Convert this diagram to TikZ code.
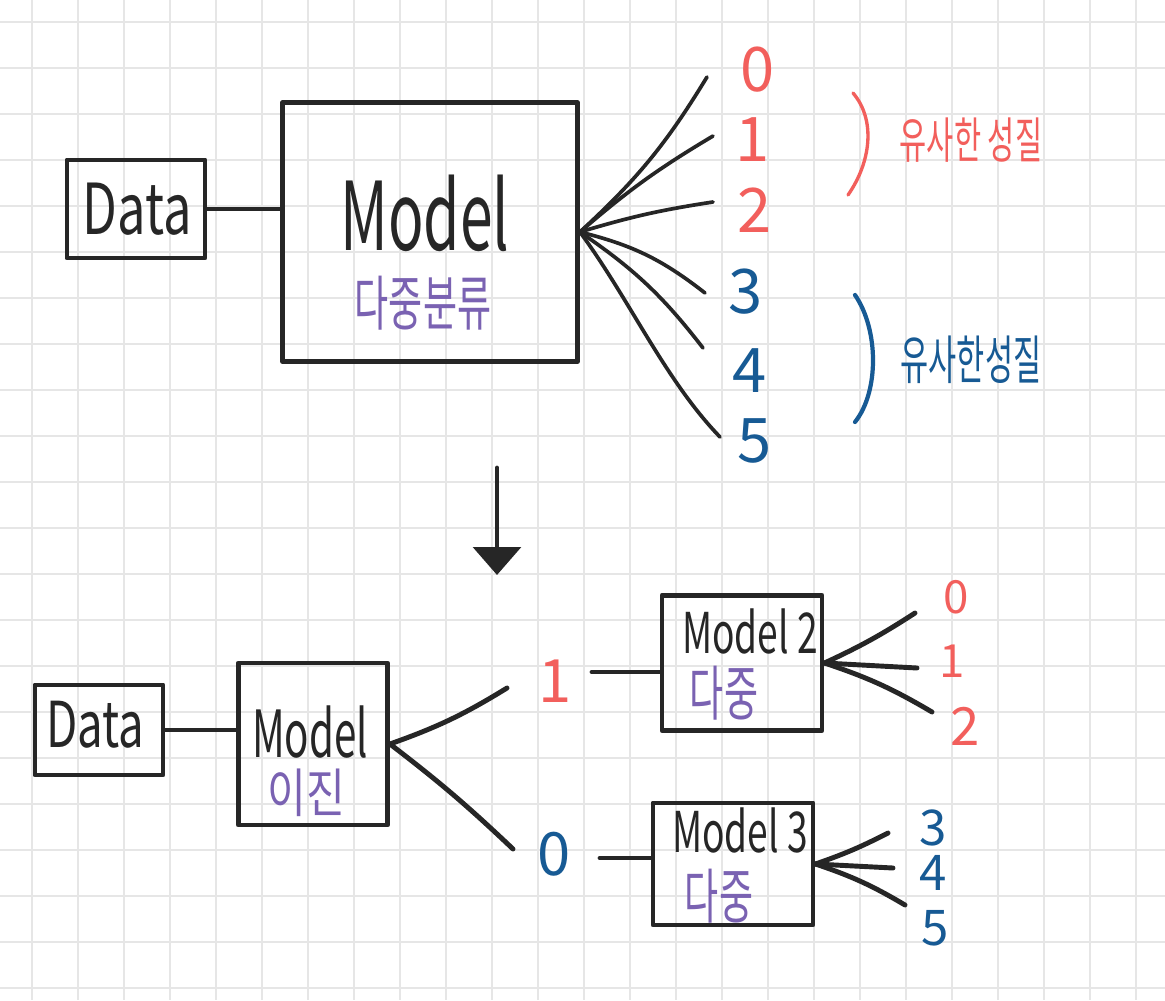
\documentclass[tikz,border=0pt]{standalone}
\usepackage{graphicx}
\usepackage{fontspec}
\setmainfont{Noto Sans CJK KR}
\usetikzlibrary{arrows.meta}
\definecolor{ink}{HTML}{262626}
\definecolor{redink}{HTML}{F25F5C}
\definecolor{blueink}{HTML}{175A94}
\definecolor{purpink}{HTML}{7A62B2}
\definecolor{gridc}{HTML}{E6E6E6}
\newcommand{\fsz}[1]{\fontsize{#1}{#1}\selectfont}
\newcommand{\hwx}[2]{\scalebox{#1}[1]{#2}}
\tikzset{
  box/.style={draw=ink, line width=2.8pt, inner sep=0pt, line join=round},
  wire/.style={draw=ink, line width=2.8pt, line cap=round},
  fan/.style={draw=ink, line width=2.1pt, line cap=round},
  lbl/.style={inner sep=0pt, text=ink},
  rednum/.style={inner sep=0pt, text=redink},
  bluenum/.style={inner sep=0pt, text=blueink},
  kor/.style={inner sep=0pt, text=purpink},
  gridline/.style={draw=gridc, line width=0.9pt},
}
\begin{document}
\begin{tikzpicture}[x=0.02cm, y=-0.02cm]
\useasboundingbox (0,0) rectangle (1165,1000);
\fill[white] (0,0) rectangle (1165,1000);
% grid
\foreach \gx in {32,78,...,1140} \draw[gridline] (\gx,0) -- (\gx,1000);
\foreach \gy in {22,68,...,1000} \draw[gridline] (0,\gy) -- (1165,\gy);

% ---------- top part ----------
\node[box, minimum width=2.76cm, minimum height=1.96cm] (data1) at (136,209) {};
\node[lbl, anchor=base] (tdata1) at (137,235) {\fsz{40}\hwx{0.72}{Data}};
\node[box, minimum width=5.9cm, minimum height=5.18cm] (model1) at (430,232) {};
\node[lbl, anchor=base] (tmodel1) at (425,250) {\fsz{54}\hwx{0.62}{Model}};
\node[kor] (kmodel1) at (423,303) {\fsz{34}\hwx{0.62}{다중분류}};
\draw[wire] (data1.east) -- (data1.east -| model1.west);

\coordinate (hub1) at (model1.east);
\coordinate (e0) at (707,77);
\coordinate (e1) at (713,136);
\coordinate (e2) at (713,202);
\coordinate (e3) at (705,293);
\coordinate (e4) at (703,348);
\coordinate (e5) at (720,437);
\draw[fan] (hub1) to[bend right=8] (e0);
\draw[fan] (hub1) to[bend left=5] (e1);
\draw[fan] (hub1) to[bend left=4] (e2);
\draw[fan] (hub1) to[bend left=12] (e3);
\draw[fan] (hub1) to[bend left=9] (e4);
\draw[fan] (hub1) .. controls (630,300) and (665,380) .. (e5);

\node[rednum, anchor=base] (n0) at (758,92) {\fsz{35}0};
\node[rednum, anchor=base] (n1) at (753,162) {\fsz{35}1};
\node[rednum, anchor=base] (n2) at (755,232) {\fsz{35}2};
\node[bluenum, anchor=base] (n3) at (746,313) {\fsz{35}3};
\node[bluenum, anchor=base] (n4) at (750,392) {\fsz{35}4};
\node[bluenum, anchor=base] (n5) at (755,462) {\fsz{35}5};

\draw[draw=redink, line width=1.9pt, line cap=round] (853,93) .. controls (876,120) and (871,162) .. (848,195);
\node[inner sep=0pt, text=redink] (simred) at (971,140) {\fsz{28}\hwx{0.6}{유사한 성질}};
\draw[draw=blueink, line width=2.4pt, line cap=round] (855,295) .. controls (879,330) and (879,392) .. (855,422);
\node[inner sep=0pt, text=blueink] (simblue) at (971,360) {\fsz{30}\hwx{0.58}{유사한성질}};

% down arrow
\coordinate (arrS) at (497,468);
\coordinate (arrE) at (497,575);
\draw[wire, -{Triangle[width=0.95cm, length=0.56cm]}] (arrS) -- (arrE);

% ---------- bottom part ----------
\node[box, minimum width=2.56cm, minimum height=1.8cm] (data2) at (99,730) {};
\node[lbl, anchor=base] (tdata2) at (95,747) {\fsz{36}\hwx{0.72}{Data}};
\node[box, minimum width=2.98cm, minimum height=3.24cm] (bin) at (313,744) {};
\node[lbl, anchor=base] (tbin) at (310,757) {\fsz{37}\hwx{0.62}{Model}};
\node[kor] (kbin) at (306,793) {\fsz{30}\hwx{0.8}{이진}};
\draw[wire] (data2.east) -- (data2.east -| bin.west);

\coordinate (hub2) at (bin.east);
\coordinate (u1) at (507,688);
\coordinate (u0) at (513,849);
\draw[wire] (hub2) to[bend right=6] (u1);
\draw[wire] (hub2) to[bend left=3] (u0);
\node[rednum, anchor=base] (b1) at (555,702) {\fsz{34}1};
\node[bluenum, anchor=base] (b0) at (554,875) {\fsz{34}0};

\node[box, minimum width=3.2cm, minimum height=2.7cm] (m2) at (742,663) {};
\node[lbl, anchor=base] (tm2) at (750,653) {\fsz{32}\hwx{0.66}{Model 2}};
\node[kor] (km2) at (724,693) {\fsz{34}\hwx{0.62}{다중}};
\node[box, minimum width=3.2cm, minimum height=2.44cm] (m3) at (733,864) {};
\node[lbl, anchor=base] (tm3) at (740,852) {\fsz{32}\hwx{0.66}{Model 3}};
\node[kor] (km3) at (719,896) {\fsz{34}\hwx{0.62}{다중}};

\coordinate (s1) at (592,672);
\draw[wire] (s1) -- (s1 -| m2.west);
\coordinate (s0) at (600,858);
\draw[wire] (s0) -- (s0 -| m3.west);

\coordinate (hub3) at (m2.east);
\coordinate (f0) at (915,613);
\coordinate (f1) at (917,668);
\coordinate (f2) at (932,712);
\draw[wire] (hub3) to[bend right=4] (f0);
\draw[wire] (hub3) to (f1);
\draw[wire] (hub3) to[bend left=6] (f2);
\node[rednum, anchor=base] (r0) at (956,613) {\fsz{26}0};
\node[rednum, anchor=base] (r1) at (952,677) {\fsz{26}1};
\node[rednum, anchor=base] (r2) at (965,745) {\fsz{30}2};

\coordinate (hub4) at (m3.east);
\coordinate (g3) at (888,833);
\coordinate (g4) at (893,868);
\coordinate (g5) at (905,905);
\draw[wire] (hub4) to[bend right=4] (g3);
\draw[wire] (hub4) to (g4);
\draw[wire] (hub4) to[bend left=6] (g5);
\node[bluenum, anchor=base] (q3) at (933,845) {\fsz{28}3};
\node[bluenum, anchor=base] (q4) at (933,890) {\fsz{28}4};
\node[bluenum, anchor=base] (q5) at (935,945) {\fsz{28}5};
\end{tikzpicture}
\end{document}
